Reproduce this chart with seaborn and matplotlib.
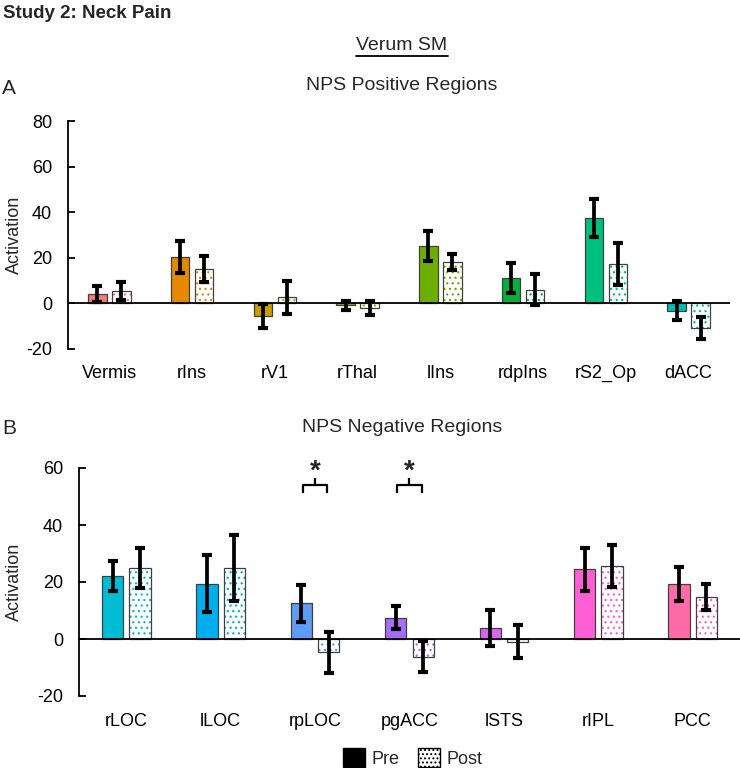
import numpy as np
import pandas as pd
import matplotlib
matplotlib.use('Agg')
import matplotlib.pyplot as plt
import seaborn as sns
from matplotlib import font_manager
from matplotlib.patches import Patch, Rectangle
from matplotlib.lines import Line2D

# ---- data ----
pos_regions = ['Vermis', 'rIns', 'rV1', 'rThal', 'lIns', 'rdpIns', 'rS2_Op', 'dACC']
pos_pre = [4.0, 20.3, -5.6, -1.0, 25.1, 11.1, 37.3, -3.4]
pos_pre_err = [3.6, 7.0, 5.3, 2.0, 6.4, 6.6, 8.4, 4.2]
pos_post = [5.4, 15.1, 2.6, -2.3, 18.1, 5.8, 17.3, -11.1]
pos_post_err = [3.9, 5.7, 7.2, 3.0, 3.6, 6.8, 9.2, 4.8]
pos_colors = ['#F47A7A', '#E58A00', '#C9A000', '#A8B000', '#6DAF00', '#00B140', '#00C080', '#00BDB0']

neg_regions = ['rLOC', 'lLOC', 'rpLOC', 'pgACC', 'lSTS', 'rIPL', 'PCC']
neg_pre = [22.2, 19.3, 12.5, 7.5, 3.9, 24.4, 19.3]
neg_pre_err = [5.2, 10.0, 6.4, 4.0, 6.4, 7.7, 5.9]
neg_post = [25.0, 24.9, -4.7, -6.2, -1.0, 25.5, 14.8]
neg_post_err = [7.0, 11.5, 7.2, 5.5, 5.8, 7.4, 4.6]
neg_colors = ['#00BCD4', '#00AEEF', '#5C9CF5', '#A66EF5', '#D966F2', '#FF5FD5', '#FF6BA9']
sig_regions = ['rpLOC', 'pgACC']

sns.set_style('white')
plt.rcParams['font.family'] = ['Liberation Sans', 'DejaVu Sans']
plt.rcParams['axes.unicode_minus'] = False
plt.rcParams['hatch.linewidth'] = 0.9
names = {f.name for f in font_manager.fontManager.ttflist}
narrow = 'Liberation Sans Narrow' if 'Liberation Sans Narrow' in names else 'Liberation Sans'

W, H = 740, 768
fig = plt.figure(figsize=(W / 100, H / 100), dpi=100)


def px_axes(left, top, right, bottom):
    return fig.add_axes([left / W, 1 - bottom / H, (right - left) / W, (bottom - top) / H])


def draw_panel(ax, regions, pre, post, pre_err, post_err, colors, ylim, yticks, label_x):
    n = len(regions)
    df = pd.DataFrame({'region': regions * 2,
                       'phase': ['Pre'] * n + ['Post'] * n,
                       'value': pre + post})
    sns.barplot(data=df, x='region', y='value', hue='phase', order=regions,
                hue_order=['Pre', 'Post'], palette=['black', 'white'],
                width=0.58, gap=0.22, errorbar=None, legend=False, ax=ax)
    bars = sorted([p for p in ax.patches], key=lambda p: p.get_x())
    for i in range(n):
        p, q = bars[2 * i], bars[2 * i + 1]
        p.set_facecolor(colors[i])
        p.set_edgecolor('#404040')
        p.set_linewidth(0.9)
        q.set_facecolor('white')
        q.set_edgecolor(colors[i])
        q.set_hatch('...')
        q.set_linewidth(0)
        ax.add_patch(Rectangle(q.get_xy(), q.get_width(), q.get_height(), fill=False,
                               edgecolor='#404040', lw=0.9, zorder=q.get_zorder() + 0.1))
        for b, v, e in ((p, pre[i], pre_err[i]), (q, post[i], post_err[i])):
            ax.errorbar(b.get_x() + b.get_width() / 2, v, yerr=e, fmt='none',
                        ecolor='black', elinewidth=2.7, capsize=3.3, capthick=3.0, zorder=5)
    ax.axhline(0, color='black', lw=1.3, zorder=4)
    ax.set_xlim(-0.5, n - 0.5)
    ax.set_ylim(*ylim)
    ax.set_yticks(yticks)
    for s in ('top', 'right', 'bottom'):
        ax.spines[s].set_visible(False)
    ax.spines['left'].set_color('black')
    ax.spines['left'].set_linewidth(1.3)
    ax.tick_params(axis='y', direction='in', length=5, width=1.3, pad=11.5,
                   labelsize=13, colors='black', left=True)
    ax.tick_params(axis='x', length=0, pad=12, labelsize=13, colors='black')
    ax.set_xlabel('')
    ax.set_ylabel('Activation', fontsize=13)
    ax.yaxis.set_label_coords(label_x, 0.5)


axA = px_axes(68, 121, 730, 348.6)
draw_panel(axA, pos_regions, pos_pre, pos_post, pos_pre_err, pos_post_err, pos_colors,
           (-20, 80), [-20, 0, 20, 40, 60, 80], -0.068)

axB = px_axes(79, 468, 740, 696)
draw_panel(axB, neg_regions, neg_pre, neg_post, neg_pre_err, neg_post_err, neg_colors,
           (-20, 60), [-20, 0, 20, 40, 60], -0.085)

# significance brackets
for r in sig_regions:
    i = neg_regions.index(r)
    axB.plot([i - 0.13, i - 0.13, i + 0.13, i + 0.13], [51.2, 54, 54, 51.2],
             color='black', lw=1.6, clip_on=False, solid_capstyle='butt')
    axB.plot([i, i], [54, 56.6], color='black', lw=1.6, clip_on=False, solid_capstyle='butt')
    axB.text(i, 56.3, '*', ha='center', va='baseline', fontsize=20, fontweight='bold')

# titles / labels
fig.text(3 / W, 1 - 13 / H, 'Study 2: Neck Pain', fontsize=13.5, fontweight='bold',
         family=narrow, va='center', ha='left')
verum = fig.text(402 / W, 1 - 46 / H, 'Verum SM', fontsize=14, family=narrow,
                 va='center', ha='center')
fig.text(2 / W, 1 - 88 / H, 'A', fontsize=15, va='center', ha='left')
fig.text(402 / W, 1 - 86 / H, 'NPS Positive Regions', fontsize=14, va='center', ha='center')
fig.text(2 / W, 1 - 428 / H, 'B', fontsize=15, va='center', ha='left')
fig.text(402 / W, 1 - 428 / H, 'NPS Negative Regions', fontsize=14, va='center', ha='center')

# legend
handles = [Patch(facecolor='black', edgecolor='black'),
           Patch(facecolor='white', edgecolor='black', hatch='....', lw=1.0)]
fig.legend(handles, ['Pre', 'Post'], loc='center', bbox_to_anchor=(413 / W, 1 - 758 / H),
           ncol=2, frameon=False, fontsize=13, handlelength=1.2, handleheight=1.2,
           columnspacing=1.0, handletextpad=0.4)

# underline "Verum SM"
fig.canvas.draw()
bb = verum.get_window_extent(fig.canvas.get_renderer())
uy = (bb.y0 - 1) / H
fig.add_artist(Line2D([bb.x0 / W, bb.x1 / W], [uy, uy], color='black', lw=1.3))

fig.savefig('out.png', dpi=100)
